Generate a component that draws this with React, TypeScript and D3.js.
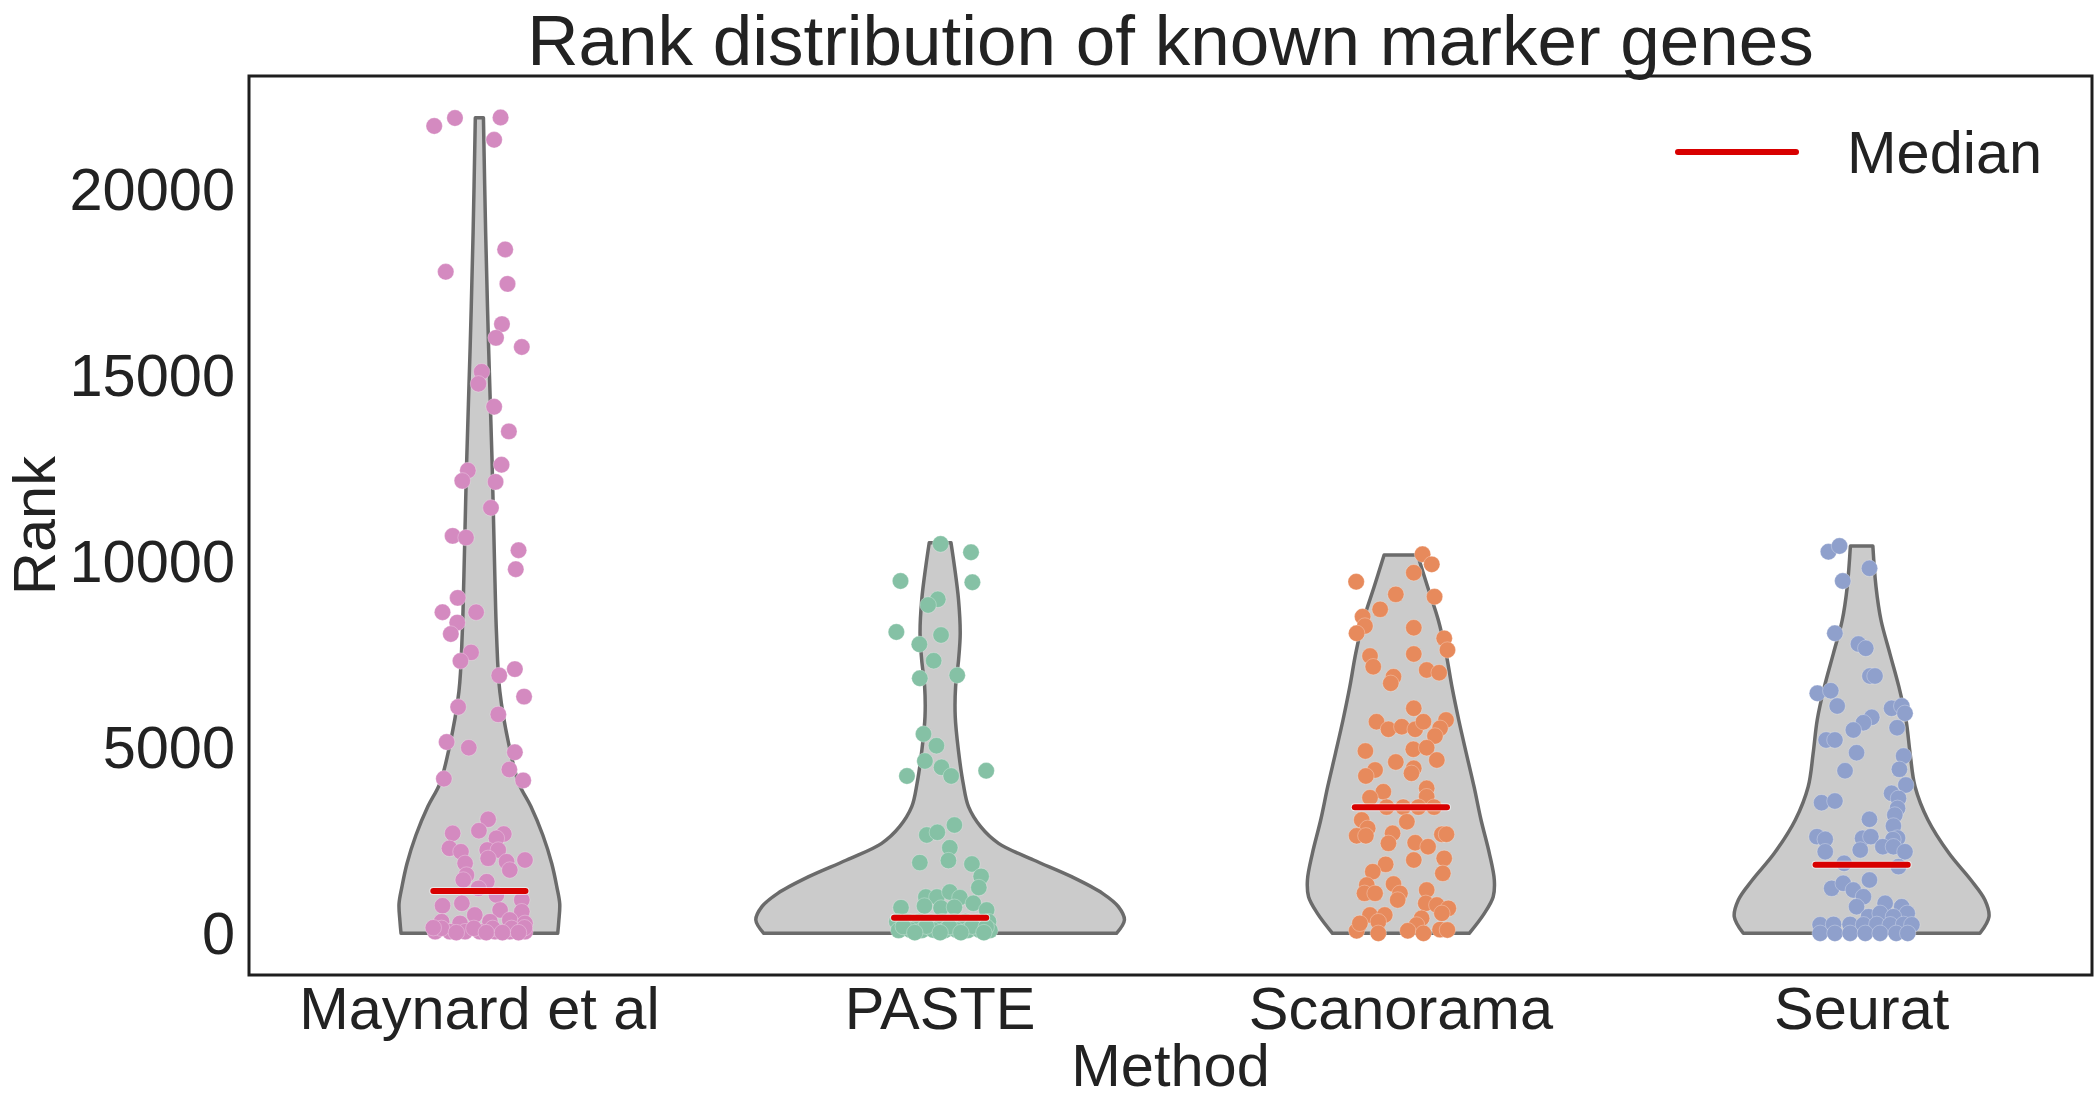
import React from "react";
import * as d3 from "d3";

// ---------- data ----------
const categories = ["Maynard et al", "PASTE", "Scanorama", "Seurat"];
const pointColors = ["#d48ac0", "#85c1a5", "#e78a5c", "#8fa0cc"];
const yTicks = [0, 5000, 10000, 15000, 20000];
const medians = [1137, 415, 3385, 1845];

// violin outlines: [rank, relative half-width (1 = widest violin)]
const maynardViolin: [number, number][] = [
  [0, 0.425], [330, 0.431], [790, 0.436], [1255, 0.42], [1870, 0.393], [2641, 0.344],
  [3412, 0.279], [4030, 0.214], [4954, 0.165], [6497, 0.111], [8041, 0.093], [9583, 0.084],
  [12667, 0.069], [15750, 0.05], [18834, 0.034], [21910, 0.022],
];
const pasteViolin: [number, number][] = [
  [0, 0.957], [358, 1.0], [716, 0.967], [1074, 0.881], [1521, 0.713], [1969, 0.507],
  [2417, 0.317], [2864, 0.22], [3401, 0.154], [4030, 0.125], [4924, 0.099], [5819, 0.082],
  [6625, 0.084], [7340, 0.1], [8058, 0.109], [8953, 0.1], [9848, 0.078], [10493, 0.059],
];
const scanoramaViolin: [number, number][] = [
  [0, 0.371], [537, 0.453], [984, 0.501], [1432, 0.507], [2149, 0.48], [3044, 0.435],
  [3938, 0.397], [4835, 0.355], [5730, 0.314], [6625, 0.277], [7521, 0.245], [8416, 0.203],
  [9311, 0.145], [10162, 0.091],
];
const seuratViolin: [number, number][] = [
  [0, 0.642], [447, 0.691], [895, 0.669], [1432, 0.593], [2149, 0.474], [3044, 0.36],
  [3938, 0.29], [4835, 0.263], [5730, 0.241], [6625, 0.202], [7521, 0.153], [8416, 0.105],
  [9311, 0.078], [10404, 0.061],
];

// strip points: [jitter offset (category units), rank]
const maynardPoints: [number, number][] = [
  [-0.098, 21687], [-0.053, 21901], [0.046, 21917], [0.032, 21316], [0.056, 18371], [-0.073, 17770],
  [0.061, 17445], [0.049, 16365], [0.036, 15996], [0.092, 15750], [0.005, 15086], [-0.002, 14761],
  [0.032, 14146], [0.064, 13483], [-0.025, 12432], [-0.037, 12155], [0.048, 12588], [0.035, 12126],
  [0.025, 11430], [-0.058, 10675], [-0.029, 10630], [0.085, 10291], [0.079, 9781], [-0.047, 9010],
  [-0.08, 8626], [-0.007, 8626], [-0.048, 8347], [-0.062, 8040], [-0.018, 7546], [-0.041, 7315],
  [0.043, 6928], [0.077, 7097], [0.097, 6359], [-0.046, 6080], [0.041, 5880], [-0.071, 5139],
  [-0.023, 4986], [0.077, 4862], [0.065, 4400], [-0.077, 4153], [0.095, 4107],
  [0.019, 3062], [-0.001, 2757], [-0.058, 2686], [0.053, 2667], [0.037, 2552], [-0.065, 2283],
  [0.017, 2238], [0.041, 2238], [-0.04, 2192], [0.099, 1969], [-0.031, 1880], [0.019, 2014],
  [0.059, 1924], [0.066, 1700], [-0.028, 1566], [0.016, 1387], [-0.035, 1432], [-0.002, 1208],
  [0.037, 1029], [-0.08, 741], [-0.038, 806], [0.092, 895], [-0.01, 492], [0.045, 626],
  [0.092, 581], [-0.082, 313], [-0.042, 268], [0.023, 313], [0.066, 358], [0.099, 268],
  [-0.096, 45], [-0.064, 45], [-0.031, 45], [0.001, 45], [0.034, 45], [0.066, 45], [0.099, 45],
  [-0.082, 134], [-0.012, 134], [0.029, 134], [0.07, 134], [0.098, 150], [-0.05, 20],
  [0.015, 20], [0.05, 20], [0.085, 20], [-0.1, 150],
];
const pastePoints: [number, number][] = [
  [0.001, 10458], [0.067, 10235], [-0.086, 9464], [0.07, 9429], [-0.005, 8972], [-0.026, 8819],
  [-0.095, 8094], [0.002, 8013], [-0.045, 7763], [-0.014, 7323], [-0.044, 6850], [0.037, 6931],
  [-0.036, 5354], [-0.008, 5040], [-0.033, 4629], [0.003, 4459], [0.024, 4226], [-0.072, 4226],
  [0.1, 4368], [0.031, 2909], [-0.029, 2641], [-0.006, 2713], [0.021, 2300], [-0.044, 1900],
  [0.018, 1955], [0.069, 1862], [0.089, 1530], [0.084, 1230], [-0.031, 975], [-0.007, 975],
  [0.021, 1110], [0.043, 960], [0.072, 806], [0.101, 626], [-0.085, 690], [-0.034, 733],
  [0.002, 680], [0.031, 700],
  [-0.094, 313], [-0.07, 313], [-0.045, 320], [-0.02, 300], [0.005, 313], [0.03, 313],
  [0.055, 320], [0.08, 300], [0.105, 313], [-0.09, 80], [-0.065, 90], [-0.04, 80],
  [-0.015, 90], [0.01, 80], [0.035, 90], [0.06, 80], [0.085, 90], [0.108, 80],
  [-0.08, 180], [-0.03, 190], [0.02, 180], [0.07, 190], [0.1, 170], [-0.055, 20],
  [0.0, 20], [0.045, 20], [0.095, 20],
];
const scanoramaPoints: [number, number][] = [
  [0.047, 10181], [0.067, 9912], [0.028, 9687], [-0.097, 9445], [-0.011, 9106], [0.073, 9042],
  [-0.045, 8703], [-0.083, 8505], [-0.078, 8255], [-0.096, 8059], [0.028, 8209], [0.094, 7924],
  [0.101, 7610], [-0.067, 7449], [0.028, 7503], [-0.06, 7162], [0.056, 7073], [0.083, 7001],
  [-0.016, 6893], [-0.022, 6716], [0.028, 6044], [-0.053, 5684], [-0.027, 5480], [0.002, 5550],
  [0.031, 5480], [0.049, 5684], [0.098, 5730], [0.085, 5507], [0.074, 5300], [0.027, 4943],
  [0.056, 4986], [-0.077, 4897], [0.078, 4655], [-0.011, 4602], [-0.056, 4387], [-0.076, 4226],
  [0.028, 4432], [0.023, 4298], [0.056, 3895], [-0.038, 3804], [-0.067, 3643], [0.056, 3670],
  [-0.031, 3390], [0.005, 3390], [0.038, 3390], [0.072, 3390], [-0.085, 3044], [0.013, 2998],
  [-0.072, 2820], [-0.096, 2619], [-0.076, 2619], [-0.018, 2686], [0.089, 2660], [0.099, 2660],
  [-0.027, 2417], [0.031, 2434], [0.059, 2327], [0.094, 2014], [0.028, 1969], [-0.033, 1853],
  [-0.061, 1656], [0.091, 1611], [-0.074, 1297], [-0.079, 1074], [-0.056, 1074], [-0.016, 1324],
  [-0.002, 1074], [-0.007, 895], [0.056, 1163], [0.054, 806], [0.078, 760], [0.103, 671],
  [0.089, 537], [-0.067, 492], [-0.035, 492], [-0.049, 313], [0.045, 403], [0.034, 224],
  [-0.096, 70], [-0.049, 0], [0.015, 70], [0.049, 0], [0.085, 100], [0.101, 90], [-0.089, 268],
];
const seuratPoints: [number, number][] = [
  [-0.072, 10251], [-0.048, 10404], [0.017, 9805], [-0.041, 9464], [-0.058, 8059], [-0.007, 7771],
  [0.009, 7656], [0.018, 6912], [0.029, 6912], [-0.096, 6447], [-0.067, 6517], [-0.053, 6106],
  [0.065, 6044], [0.087, 6106], [0.094, 5910], [0.022, 5802], [0.004, 5657], [-0.018, 5461],
  [0.077, 5523], [-0.077, 5193], [-0.058, 5193], [-0.011, 4852], [0.091, 4763], [0.082, 4405],
  [-0.036, 4368], [0.096, 3984], [0.065, 3761], [0.08, 3626], [-0.087, 3509], [-0.058, 3554],
  [0.078, 3358], [0.072, 3178], [0.017, 3062], [0.069, 2883], [-0.097, 2596], [-0.079, 2525],
  [0.002, 2552], [0.02, 2596], [0.078, 2560], [0.068, 2520], [0.046, 2327], [0.069, 2327],
  [0.094, 2192], [-0.079, 2192], [-0.003, 2238], [-0.038, 1880], [0.08, 1790], [0.017, 1432],
  [-0.065, 1208], [-0.04, 1343], [-0.018, 1163], [0.004, 983], [-0.011, 715], [0.051, 806],
  [0.087, 715], [0.099, 537], [0.015, 447], [0.04, 537], [0.069, 447],
  [-0.09, 230], [-0.061, 240], [-0.025, 240], [0.004, 230], [0.033, 240], [0.062, 230],
  [0.091, 240], [0.109, 230], [-0.09, 0], [-0.058, 0], [-0.025, 0], [0.008, 0], [0.04, 0],
  [0.075, 0], [0.1, 0],
];

const violins = [maynardViolin, pasteViolin, scanoramaViolin, seuratViolin];
const points = [maynardPoints, pastePoints, scanoramaPoints, seuratPoints];

// ---------- layout ----------
const W = 2100;
const H = 1099;
const left = 249, right = 2092, top = 76, bottom = 975;
const FONT = "'Liberation Sans', Arial, Helvetica, sans-serif";
const TEXT = "#222222";
const LABEL_SIZE = 59.5;

export default function App() {
  const x = d3.scalePoint<string>().domain(categories).range([left, right]).padding(0.5);
  const step = x.step();
  const y = d3.scaleLinear().domain([-1120, 23030]).range([bottom, top]);
  const w = d3.scaleLinear().domain([0, 1]).range([0, 0.4 * step]);

  return (
    <div style={{ position: "absolute", left: 0, top: 0, width: W, height: H, background: "#fff" }}>
      <svg width={W} height={H} viewBox={`0 0 ${W} ${H}`} style={{ display: "block" }}>
        <rect x={0} y={0} width={W} height={H} fill="#ffffff" />
        {categories.map((c, i) => {
          const cx = x(c)!;
          const area = d3
            .area<[number, number]>()
            .y((d) => y(d[0]))
            .x0((d) => cx - w(d[1]))
            .x1((d) => cx + w(d[1]))
            .curve(d3.curveCatmullRom.alpha(0.5));
          return (
            <path key={"v" + c} d={area(violins[i]) || ""} fill="#cbcbcb" stroke="#6b6b6b" strokeWidth={3.5} strokeLinejoin="round" />
          );
        })}
        {categories.map((c, i) => {
          const cx = x(c)!;
          return (
            <g key={"p" + c}>
              {points[i].map((p, j) => (
                <circle key={j} cx={cx + p[0] * step} cy={y(p[1])} r={8.2} fill={pointColors[i]} stroke="#ffffff" strokeOpacity={0.35} strokeWidth={0.8} />
              ))}
            </g>
          );
        })}
        {categories.map((c, i) => {
          const cx = x(c)!;
          const yy = y(medians[i]);
          return (
            <g key={"m" + c}>
              <line x1={cx - 0.1 * step} x2={cx + 0.1 * step} y1={yy} y2={yy} stroke="#ffffff" strokeOpacity={0.6} strokeWidth={8} strokeLinecap="round" />
              <line x1={cx - 0.1 * step} x2={cx + 0.1 * step} y1={yy} y2={yy} stroke="#d80000" strokeWidth={6} strokeLinecap="round" />
            </g>
          );
        })}
        <rect x={left} y={top} width={right - left} height={bottom - top} fill="none" stroke="#1e1e1e" strokeWidth={3} />
        {yTicks.map((t) => (
          <text key={t} x={235} y={y(t)} dy="0.35em" textAnchor="end" fontFamily={FONT} fontSize={LABEL_SIZE} fill={TEXT}>
            {String(t)}
          </text>
        ))}
        {categories.map((c) => (
          <text key={"t" + c} x={x(c)!} y={1029} textAnchor="middle" fontFamily={FONT} fontSize={LABEL_SIZE} fill={TEXT}>
            {c}
          </text>
        ))}
        <text x={(left + right) / 2} y={1086} textAnchor="middle" fontFamily={FONT} fontSize={LABEL_SIZE} fill={TEXT}>
          Method
        </text>
        <text transform={`translate(55,${(top + bottom) / 2}) rotate(-90)`} textAnchor="middle" fontFamily={FONT} fontSize={LABEL_SIZE} fill={TEXT}>
          Rank
        </text>
        <text x={(left + right) / 2} y={65} textAnchor="middle" fontFamily={FONT} fontSize={71} fill={TEXT}>
          Rank distribution of known marker genes
        </text>
        <line x1={1678} x2={1796} y1={152} y2={152} stroke="#d80000" strokeWidth={6} strokeLinecap="round" />
        <text x={1847} y={173} fontFamily={FONT} fontSize={LABEL_SIZE} fill={TEXT}>
          Median
        </text>
      </svg>
    </div>
  );
}
